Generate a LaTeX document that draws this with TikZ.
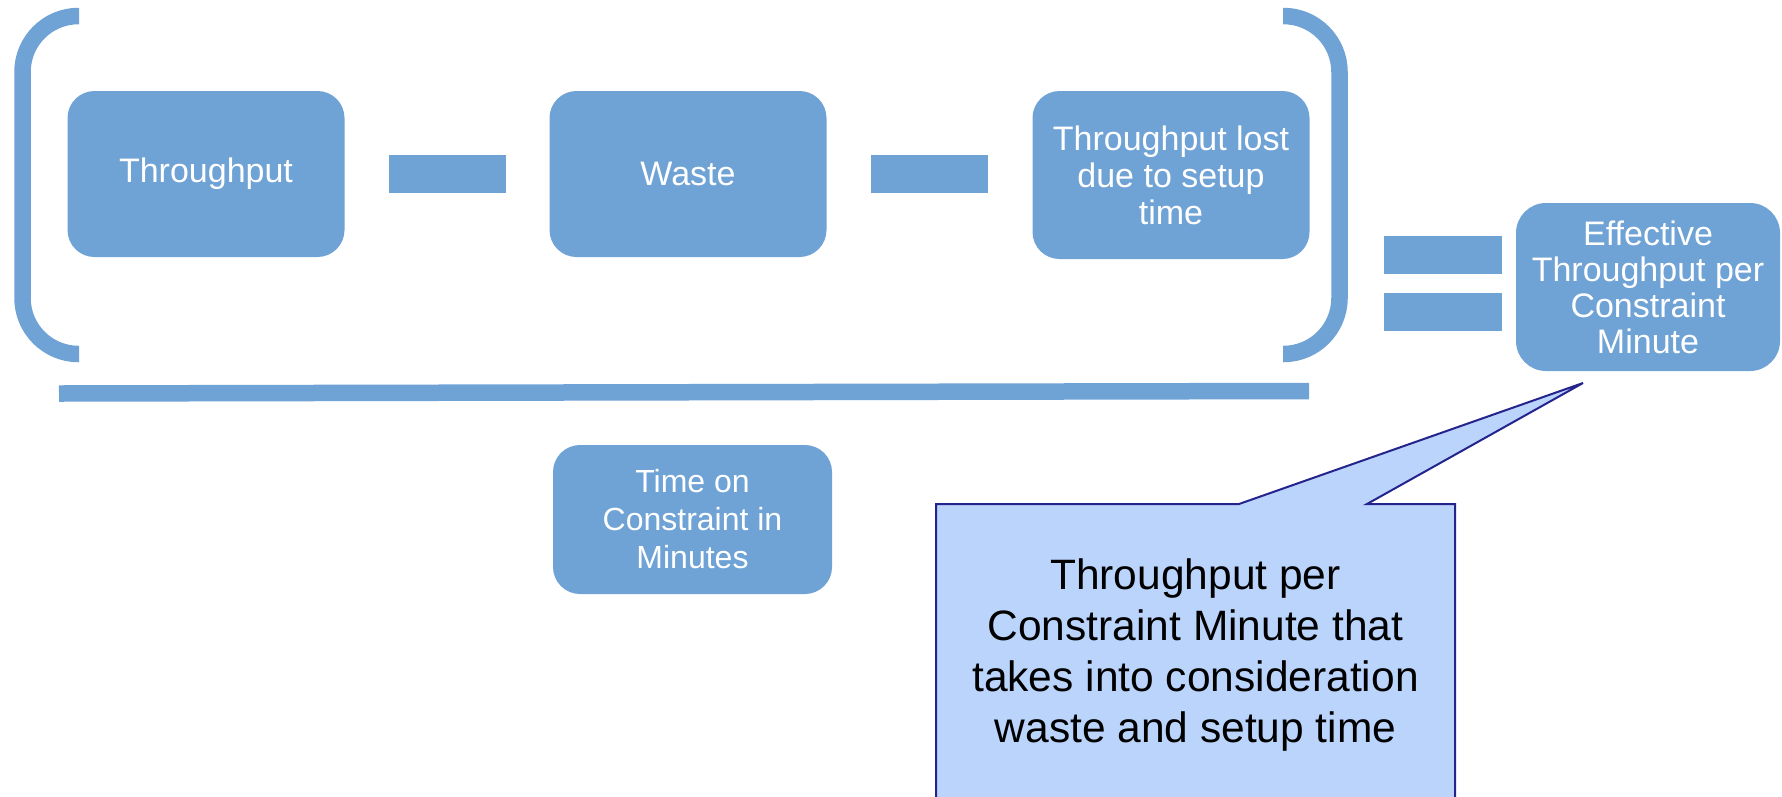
\documentclass[tikz,border=0pt]{standalone}
\usepackage{fontspec}
\setmainfont{Liberation Sans}
\definecolor{stepblue}{HTML}{6FA2D5}
\definecolor{notefill}{HTML}{BAD4FC}
\definecolor{noteline}{HTML}{24248C}
\begin{document}
\begin{tikzpicture}[x=1pt,y=-1pt,
  box/.style={fill=stepblue, rounded corners=27pt, text=white, align=center,
    inner sep=0pt, minimum width=277pt, minimum height=166pt,
    font=\fontsize{34}{37}\selectfont},
  opbar/.style={fill=stepblue, inner sep=0pt, minimum width=117pt, minimum height=38pt},
  bracket/.style={draw=stepblue, line width=16.5pt, rounded corners=56pt},
  notetext/.style={inner sep=0pt, align=center, text=black,
    font=\fontsize{42.5}{51}\selectfont}]
\useasboundingbox (0,0) rectangle (1782,796);
\clip (0,0) rectangle (1782,796);

% brackets around the numerator
\draw[bracket] (79,16) -- (22.5,16) -- (22.5,354) -- (79,354);
\draw[bracket] (1283,16) -- (1339.5,16) -- (1339.5,354) -- (1283,354);

% numerator terms
\node[box] (tp) at (206,174) {Throughput};
\node[opbar] (minusA) at (447.5,174) {};
\node[box] (waste) at (688,174) {Waste};
\node[opbar] (minusB) at (929.5,174) {};
\node[box, minimum height=168pt] (setup) at (1171,175) {Throughput lost\\due to setup\\time};

% fraction line
\draw[stepblue, line width=16.5pt] (59,393.5) -- (1309,391);

% denominator
\node[box, minimum width=279pt, minimum height=149pt,
      font=\fontsize{32}{38}\selectfont] (time) at (692.5,519.5)
      {Time on\\Constraint in\\Minutes};

% equals sign and result
\node[opbar, minimum width=118pt] (eqA) at (1443,255) {};
\node[opbar, minimum width=118pt] (eqB) at (1443,312) {};
\node[box, minimum width=264pt, minimum height=168pt, rounded corners=30pt,
      font=\fontsize{34}{36}\selectfont] (eff) at (1648,287)
      {Effective\\Throughput per\\Constraint\\Minute};

% callout pointing at the result
\draw[fill=notefill, draw=noteline, line width=2pt]
  (936,504) -- (1239,504) -- (1583,383) -- (1367,504) -- (1455,504)
  -- (1455,812) -- (936,812) -- cycle;
\node[notetext] (note) at (1195.5,655)
  {Throughput per\\Constraint Minute that\\takes into consideration\\waste and setup time};
\end{tikzpicture}
\end{document}
